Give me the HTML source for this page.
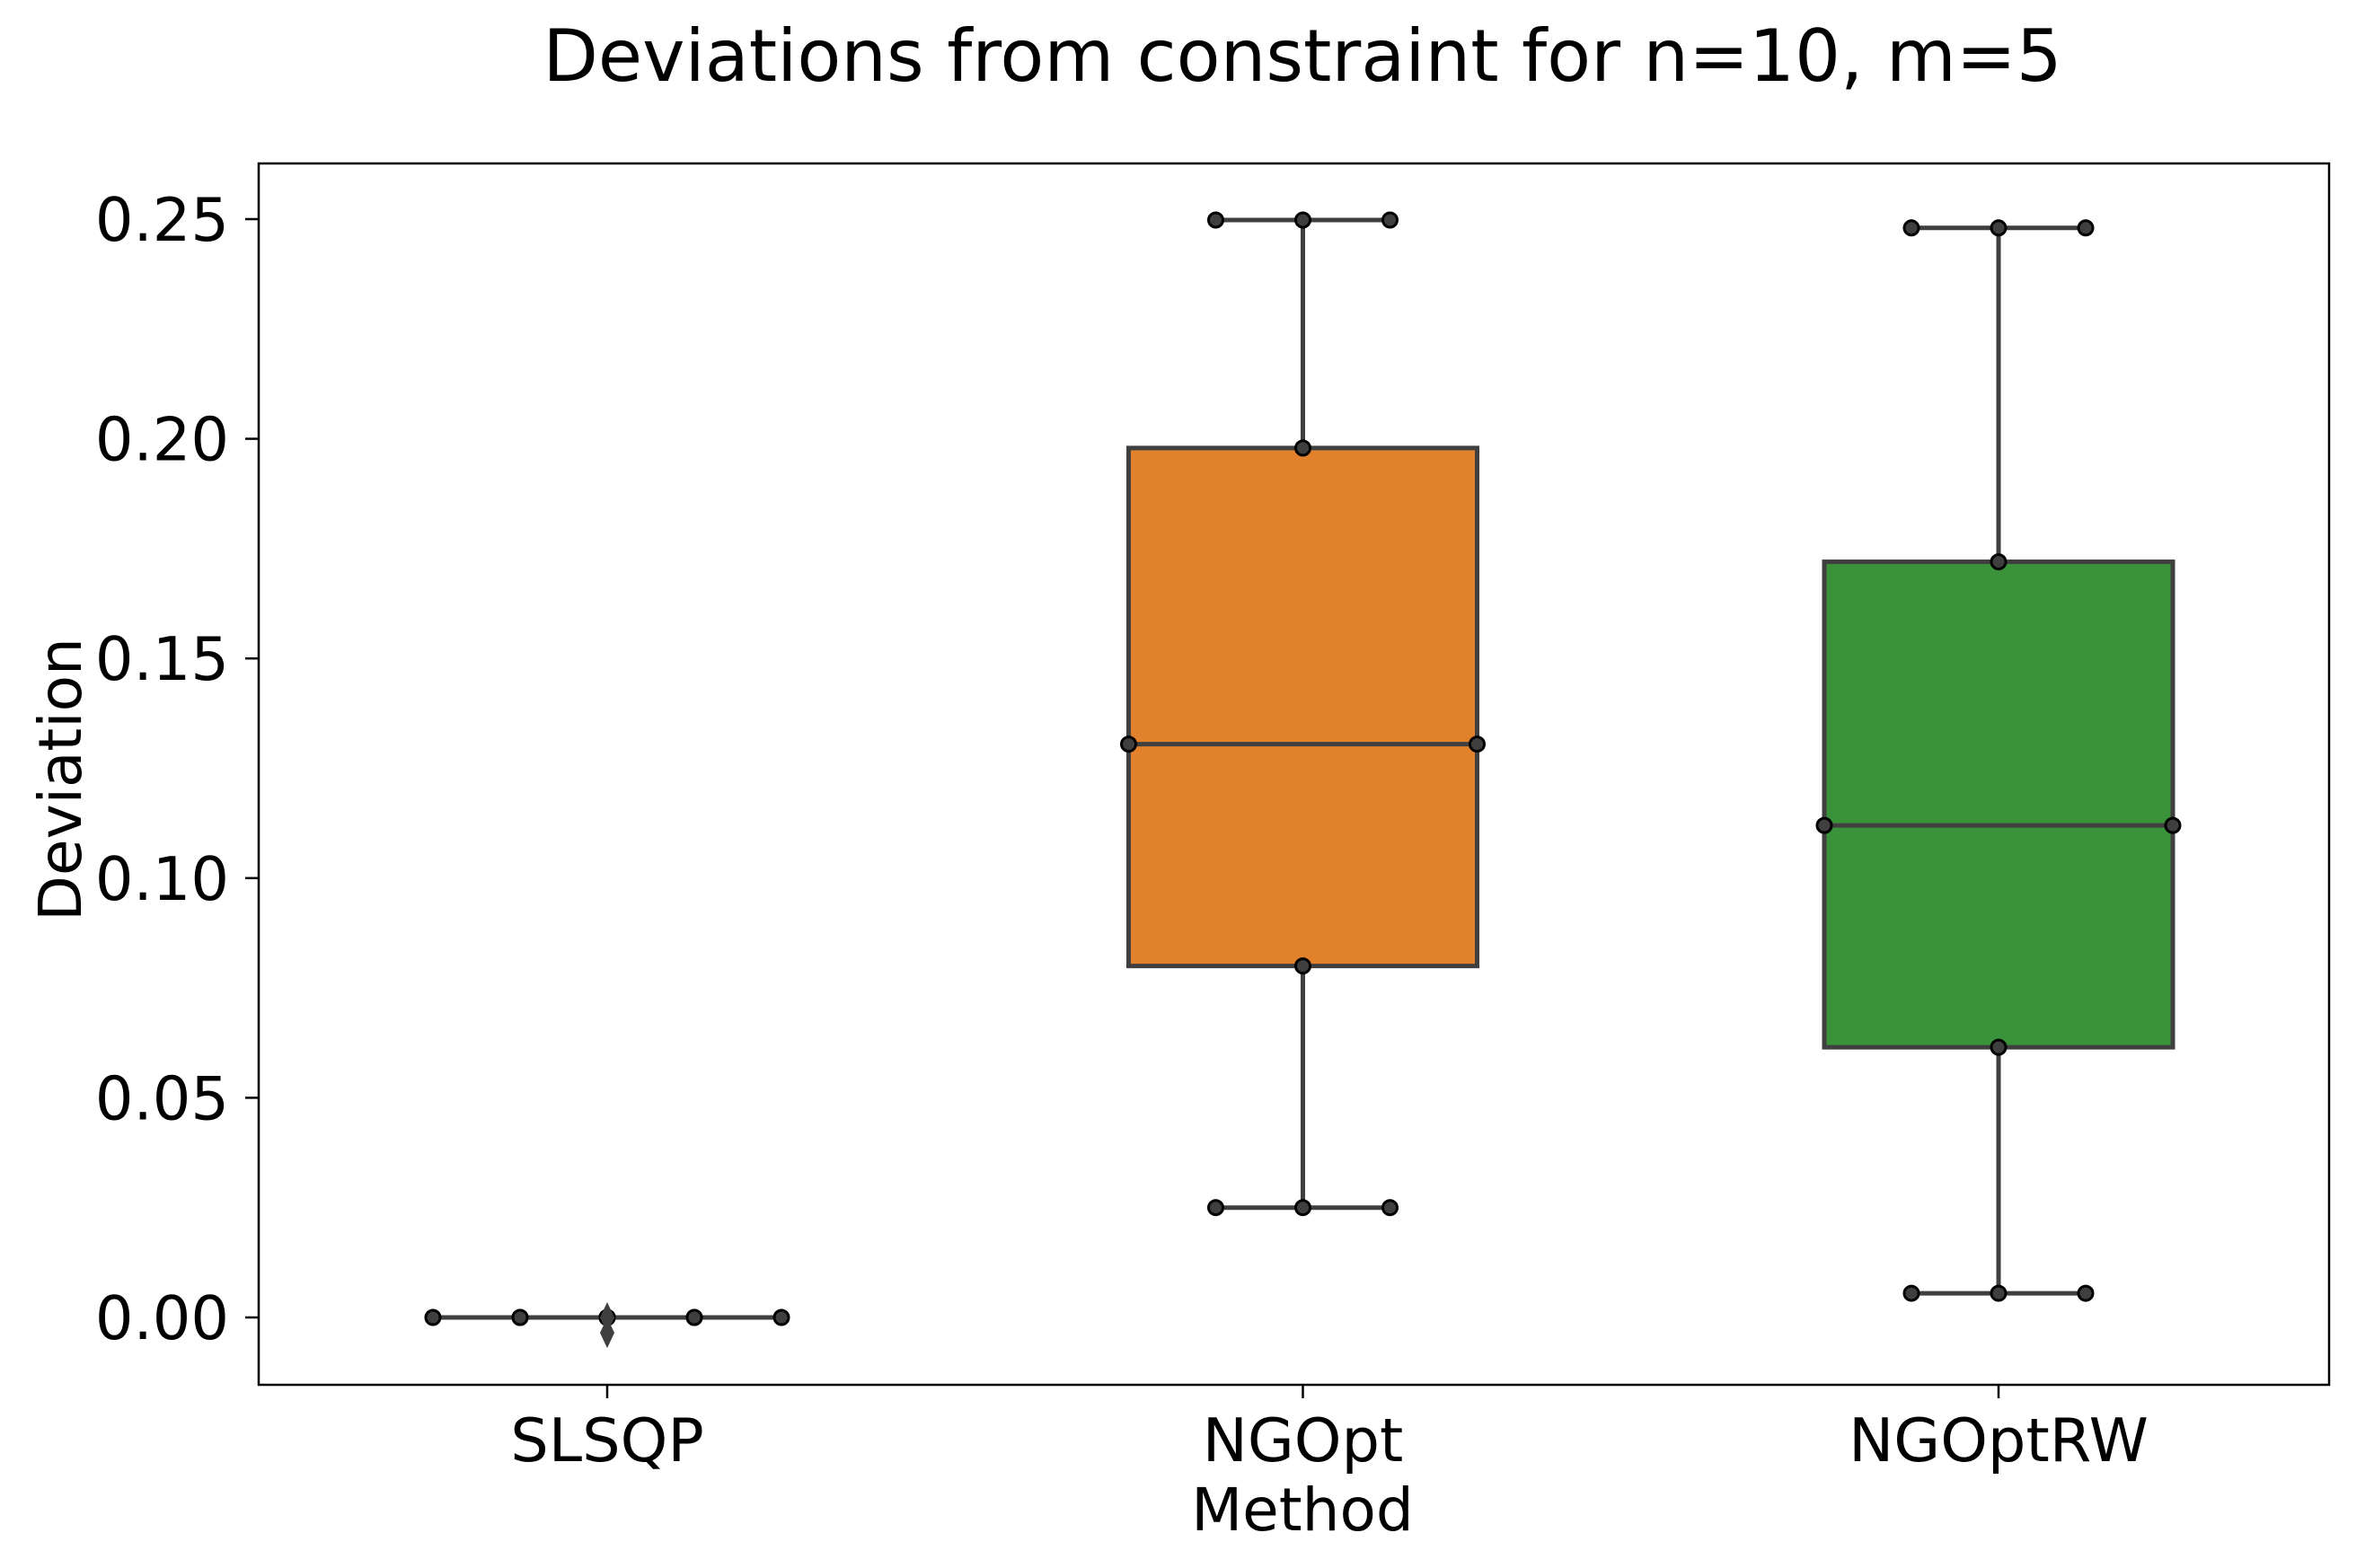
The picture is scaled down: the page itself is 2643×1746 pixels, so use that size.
<!DOCTYPE html>
<html><head><meta charset="utf-8">
<style>html,body{margin:0;padding:0;background:#fff}svg{display:block}text{font-family:"DejaVu Sans","Liberation Sans",sans-serif;fill:#000}</style>
</head><body>
<svg id="chart" width="2643" height="1746" viewBox="0 0 2643 1746" xmlns="http://www.w3.org/2000/svg">
<rect x="0" y="0" width="2643" height="1746" fill="#fff"/>
<text x="1450" y="90" font-size="80" text-anchor="middle">Deviations from constraint for n=10, m=5</text>
<g id="plot"></g>
<rect x="288" y="182" width="2305" height="1360" fill="none" stroke="#000" stroke-width="2.5"/>
<text x="1450" y="1704" font-size="66" text-anchor="middle">Method</text>
<text x="0" y="0" font-size="66" text-anchor="middle" transform="translate(90,868) rotate(-90)">Deviation</text>
</svg>
<script>
const categories = ["SLSQP", "NGOpt", "NGOptRW"];
const whiskerLow = [0.0, 0.025, 0.0055];
const q1 = [0.0, 0.080, 0.0615];
const median = [0.0, 0.1305, 0.112];
const q3 = [0.0, 0.1979, 0.172];
const whiskerHigh = [0.0, 0.2498, 0.248];
const fliers = [[0.0, -0.0035], [], []];
const yTicks = [0.00, 0.05, 0.10, 0.15, 0.20, 0.25];
const yTickLabels = ["0.00", "0.05", "0.10", "0.15", "0.20", "0.25"];
const colors = ["#3274a1", "#e1812c", "#3a923a"];

const NS = "http://www.w3.org/2000/svg";
const plot = document.getElementById("plot");
const X0 = 288, X1 = 2593, Y0 = 182, Y1 = 1542;
function yScale(v){ return 1467 - v * 4892; }
function xScale(i){ return 676 + i * 774.5; }
const boxHalf = 194, capHalf = 97, edge = "#3f3f3f";
function mk(tag, attrs){ const e = document.createElementNS(NS, tag); for (const k in attrs) e.setAttribute(k, attrs[k]); plot.appendChild(e); return e; }
function line(x1,y1,x2,y2){ return mk("line",{x1:x1,y1:y1,x2:x2,y2:y2,stroke:edge,"stroke-width":5,"stroke-linecap":"butt"}); }
function dot(x,y){ return mk("circle",{cx:x,cy:y,r:8,fill:"#3f3f3f",stroke:"#000","stroke-width":3}); }

yTicks.forEach((t,i)=>{
  const y = yScale(t);
  const tk = mk("line",{x1:X0-15,y1:y,x2:X0,y2:y,stroke:"#000","stroke-width":2.5});
  
  
  const tx = mk("text",{x:X0-33,y:y+24,"font-size":67,"text-anchor":"end"});
  tx.textContent = yTickLabels[i];
  
  
});

categories.forEach((c,i)=>{
  const cx = xScale(i);
  const tk = mk("line",{x1:cx,y1:Y1,x2:cx,y2:Y1+15,stroke:"#000","stroke-width":2.5});
  
  
  const tx = mk("text",{x:cx,y:1627,"font-size":67,"text-anchor":"middle"});
  tx.textContent = c;
  
  

  const yl = yScale(whiskerLow[i]), yq1 = yScale(q1[i]), ym = yScale(median[i]), yq3 = yScale(q3[i]), yh = yScale(whiskerHigh[i]);
  const wl = line(cx, yq1, cx, yl);
  
  
  const wh = line(cx, yq3, cx, yh);
  
  
  const cl = line(cx-capHalf, yl, cx+capHalf, yl);
  
  
  const ch = line(cx-capHalf, yh, cx+capHalf, yh);
  
  
  const bx = mk("rect",{x:cx-boxHalf,y:Math.min(yq3,yq1),width:boxHalf*2,height:Math.max(Math.abs(yq1-yq3),0.01),fill:colors[i],stroke:edge,"stroke-width":5});
  
  
  const md = line(cx-boxHalf, ym, cx+boxHalf, ym);
  
  

  const pts = [[cx-capHalf,yl],[cx,yl],[cx+capHalf,yl],[cx,yq1],[cx-boxHalf,ym],[cx+boxHalf,ym],[cx,yq3],[cx-capHalf,yh],[cx,yh],[cx+capHalf,yh]];
  pts.forEach(p=>{
    const d = dot(p[0], p[1]);
    
    
  });

  fliers[i].forEach(f=>{
    const fy = yScale(f);
    const d = mk("polygon",{points:`${cx},${fy-17} ${cx+8},${fy} ${cx},${fy+17} ${cx-8},${fy}`,fill:edge});
    
    
  });
});
</script>
</body></html>
